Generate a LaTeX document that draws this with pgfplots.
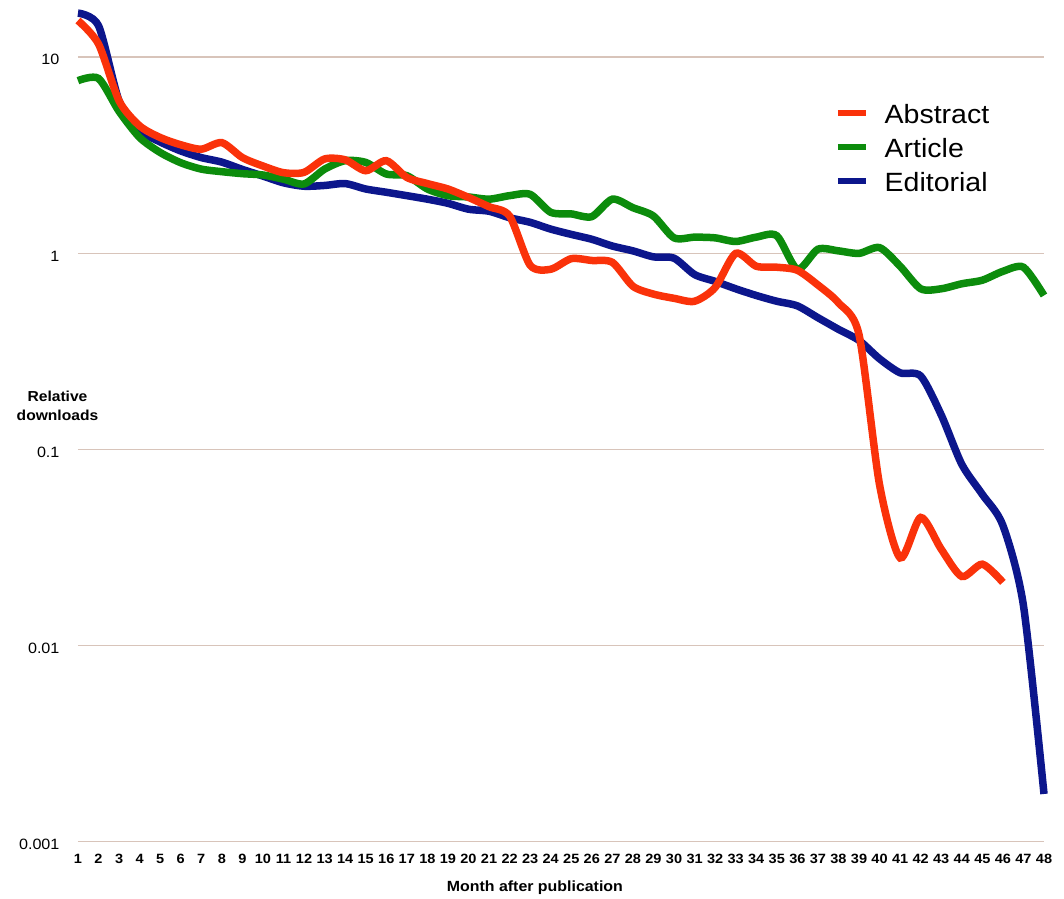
\documentclass[border=0pt]{standalone}
\usepackage{fontspec}
\setmainfont{Liberation Sans}[FakeStretch=1.08]
\usepackage{pgfplots}
\pgfplotsset{compat=1.18}

\definecolor{abstractc}{RGB}{250,50,10}
\definecolor{articlec}{RGB}{12,140,12}
\definecolor{editorialc}{RGB}{12,22,140}
\definecolor{gridc}{RGB}{216,196,186}

\begin{document}
\begin{tikzpicture}
\begin{axis}[
    scale only axis,
    width=966bp, height=841.6bp,
    ymode=log,
    xmin=1, xmax=48,
    ymin=0.001, ymax=19.6,
    clip=false,
    axis line style={draw=none},
    tick style={draw=none},
    xtick={1,...,48},
    ytick={0.001,0.01,0.1,1,10},
    yticklabels={0.001,0.01,0.1,1,10},
    ymajorgrids,
    grid style={gridc, line width=1.6bp},
    /pgf/number format/assume math mode=true,
    xticklabel style={font=\bfseries\fontsize{13.5}{16}\selectfont, yshift=-9bp},
    yticklabel style={font=\fontsize{15}{17}\selectfont, xshift=-15bp, yshift=-2.5bp},
    reverse legend,
    legend cell align=left,
    legend style={at={(0.7836,0.8756)}, anchor=north west, draw=none, fill=none,
        inner sep=0pt, row sep=0pt, column sep=0pt,
        font=\fontsize{26.5}{30}\selectfont,
        nodes={inner sep=0pt, text height=19bp, text depth=15bp}},
    legend image code/.code={
        \draw[#1, line width=5.5bp] (0bp,9bp) -- (28bp,9bp);
        \path (43bp,0bp);},
    every axis plot/.append style={line width=7.5bp, smooth, tension=0.45},
]

% Editorial
\addplot[editorialc] coordinates {
    (1,16.8) (2,14.5) (3,6.0) (4,4.25) (5,3.7) (6,3.33) (7,3.08) (8,2.92)
    (9,2.68) (10,2.48) (11,2.29) (12,2.2) (13,2.22) (14,2.27) (15,2.13) (16,2.05)
    (17,1.97) (18,1.89) (19,1.8) (20,1.68) (21,1.64) (22,1.52) (23,1.44) (24,1.33)
    (25,1.25) (26,1.18) (27,1.09) (28,1.03) (29,0.96) (30,0.945) (31,0.78) (32,0.72)
    (33,0.66) (34,0.61) (35,0.57) (36,0.54) (37,0.47) (38,0.41) (39,0.36) (40,0.29)
    (41,0.246) (42,0.237) (43,0.15) (44,0.084) (45,0.059) (46,0.041) (47,0.016) (48,0.00175)
};
\addlegendentry{Editorial}

% Article
\addplot[articlec] coordinates {
    (1,7.6) (2,7.8) (3,5.3) (4,3.9) (5,3.27) (6,2.9) (7,2.69) (8,2.61)
    (9,2.55) (10,2.51) (11,2.39) (12,2.26) (13,2.69) (14,2.97) (15,2.91) (16,2.54)
    (17,2.49) (18,2.13) (19,1.97) (20,1.94) (21,1.89) (22,1.97) (23,2.0) (24,1.62)
    (25,1.59) (26,1.54) (27,1.89) (28,1.71) (29,1.55) (30,1.2) (31,1.21) (32,1.2)
    (33,1.15) (34,1.21) (35,1.23) (36,0.83) (37,1.05) (38,1.03) (39,1.0) (40,1.07)
    (41,0.86) (42,0.66) (43,0.66) (44,0.70) (45,0.73) (46,0.81) (47,0.85) (48,0.61)
};
\addlegendentry{Article}

% Abstract
\addplot[abstractc] coordinates {
    (1,15.4) (2,11.7) (3,6.0) (4,4.47) (5,3.9) (6,3.58) (7,3.4) (8,3.67)
    (9,3.08) (10,2.79) (11,2.58) (12,2.59) (13,3.03) (14,3.0) (15,2.64) (16,2.97)
    (17,2.44) (18,2.27) (19,2.13) (20,1.93) (21,1.73) (22,1.55) (23,0.87) (24,0.83)
    (25,0.94) (26,0.92) (27,0.90) (28,0.68) (29,0.62) (30,0.59) (31,0.57) (32,0.67)
    (33,1.0) (34,0.86) (35,0.85) (36,0.82) (37,0.69) (38,0.56) (39,0.385) (40,0.066)
    (41,0.028) (42,0.045) (43,0.031) (44,0.0225) (45,0.026) (46,0.021)
};
\addlegendentry{Abstract}

\node[align=center, font=\bfseries\fontsize{14.5}{19}\selectfont]
    at (rel axis cs:-0.0212,0.5178) {Relative\\downloads};
\node[anchor=base, font=\bfseries\fontsize{14.8}{17}\selectfont]
    at (rel axis cs:0.473,-0.0594) {Month after publication};
\path (rel axis cs:-0.0807,1) rectangle (rel axis cs:1.0207,-0.0642);
\end{axis}
\end{tikzpicture}
\end{document}
